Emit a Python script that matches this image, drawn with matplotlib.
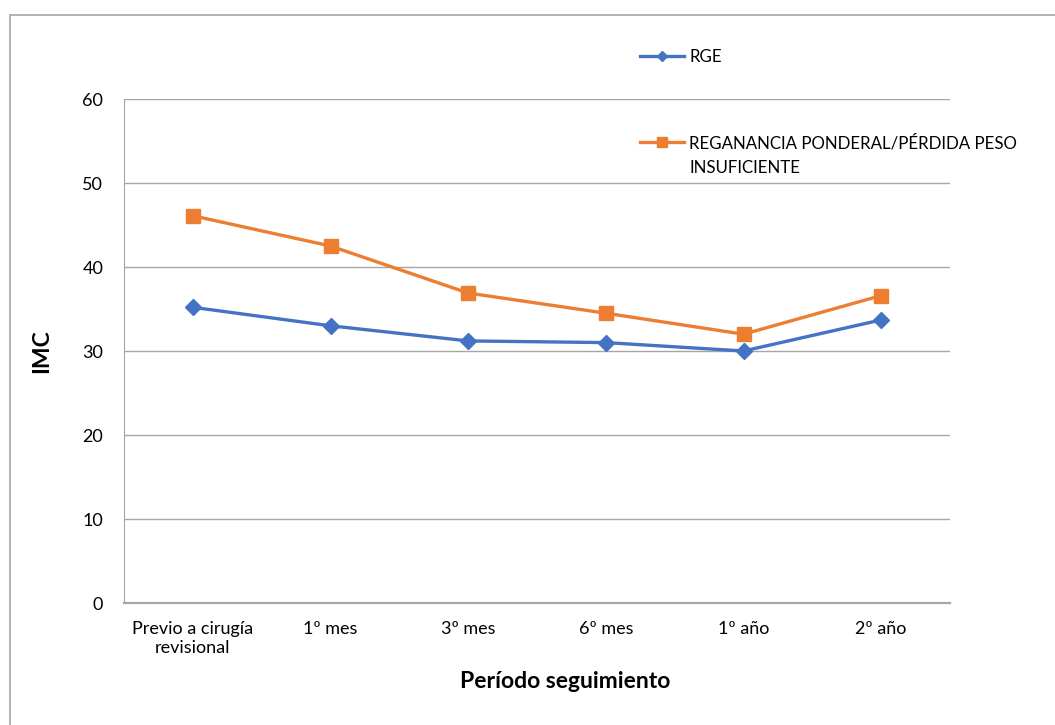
import matplotlib.pyplot as plt
from matplotlib.patches import Rectangle

plt.rcParams['font.family'] = ['Lato', 'DejaVu Sans']

periodos = ['Previo a cirugía\nrevisional', '1º mes', '3º mes', '6º mes', '1º año', '2º año']
rge = [35.2, 33.0, 31.2, 31.0, 30.0, 33.7]
reganancia = [46.1, 42.5, 36.9, 34.5, 32.0, 36.6]
yticks = [0, 10, 20, 30, 40, 50, 60]

azul = '#4472C4'
naranja = '#ED7D31'
gris = '#A6A6A6'

fig = plt.figure(figsize=(10.55, 7.25), dpi=100)
ax = fig.add_axes([124 / 1055, 1 - 603 / 725, 826 / 1055, 504 / 725])

# marco exterior del gráfico
fig.patches.append(Rectangle((10 / 1055, -0.1), 1.2, 1 - 15 / 725 + 0.1,
                             transform=fig.transFigure, fill=False,
                             edgecolor=gris, linewidth=1.2))

x = list(range(len(periodos)))
l1, = ax.plot(x, rge, color=azul, linewidth=2.4, marker='D', markersize=8.5,
              label='RGE', zorder=3)
l2, = ax.plot(x, reganancia, color=naranja, linewidth=2.4, marker='s', markersize=10.5,
              label='REGANANCIA PONDERAL/PÉRDIDA PESO', zorder=3)

ax.set_xlim(-0.5, len(periodos) - 0.5)
ax.set_ylim(0, 60)
ax.set_yticks(yticks)
ax.set_xticks(x)
ax.set_xticklabels(periodos, fontsize=13)
ax.tick_params(axis='y', labelsize=13, length=0, pad=15)
ax.tick_params(axis='x', length=0, pad=13)
ax.grid(axis='y', color=gris, linewidth=1)
ax.set_axisbelow(True)
for s in ['top', 'right']:
    ax.spines[s].set_visible(False)
ax.spines['left'].set_color(gris)
ax.spines['bottom'].set_color(gris)
ax.spines['bottom'].set_linewidth(1.6)

ax.set_ylabel('IMC', fontsize=16.5, fontweight='bold', labelpad=22)
ax.set_xlabel('Período seguimiento', fontsize=16.5, fontweight='bold')
ax.xaxis.set_label_coords(0.534, -0.135)

fig.legend(handles=[l1], loc='center left', bbox_to_anchor=(625 / 1055, 1 - 57 / 725),
           frameon=False, fontsize=12.2, handlelength=2.6, handletextpad=0.3,
           markerscale=0.65)
leg2 = fig.legend(handles=[l2], loc='center left', bbox_to_anchor=(625 / 1055, 1 - 143 / 725),
                  frameon=False, fontsize=12.2, handlelength=2.6, handletextpad=0.3,
                  markerscale=0.65)

# segunda línea de la etiqueta, alineada con el texto de la leyenda
fig.canvas.draw()
bb = leg2.get_texts()[0].get_window_extent()
fig.text(bb.x0 / 1055, (bb.y0 - 25 + bb.height / 2) / 725, 'INSUFICIENTE',
         fontsize=12.2, va='center', ha='left')

fig.savefig('out.png', dpi=100)
